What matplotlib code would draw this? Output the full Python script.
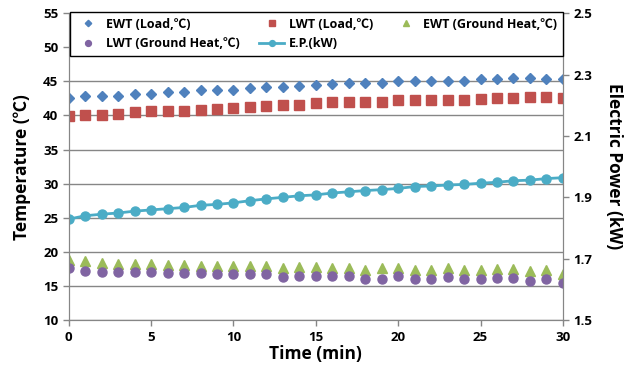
"""Entering/leaving water temperatures and electric power over time."""
import matplotlib
matplotlib.use("Agg")
import matplotlib.pyplot as plt

plt.rcParams["font.family"] = ["Open Sans", "Noto Sans CJK KR", "DejaVu Sans"]

minutes = list(range(31))

ewt_load = [42.6, 42.8, 42.9, 42.9, 43.2, 43.2, 43.5, 43.5, 43.7, 43.7,
            43.8, 44.0, 44.1, 44.1, 44.3, 44.4, 44.6, 44.7, 44.7, 44.8,
            45.0, 45.0, 45.1, 45.1, 45.1, 45.3, 45.3, 45.5, 45.5, 45.4, 45.3]
lwt_load = [39.9, 40.0, 40.1, 40.2, 40.5, 40.6, 40.7, 40.7, 40.8, 41.0,
            41.1, 41.3, 41.4, 41.5, 41.6, 41.8, 41.9, 42.0, 42.0, 42.0,
            42.2, 42.2, 42.2, 42.3, 42.3, 42.4, 42.5, 42.6, 42.7, 42.7, 42.5]
ewt_ground = [18.8, 18.6, 18.4, 18.3, 18.2, 18.2, 18.1, 18.1, 18.0, 18.0,
              18.0, 17.9, 17.9, 17.7, 17.8, 17.8, 17.7, 17.7, 17.4, 17.6,
              17.7, 17.4, 17.3, 17.6, 17.4, 17.4, 17.5, 17.5, 17.2, 17.3, 16.8]
lwt_ground = [17.6, 17.2, 17.1, 17.1, 17.0, 17.0, 16.9, 16.9, 16.9, 16.8,
              16.8, 16.8, 16.7, 16.3, 16.5, 16.5, 16.4, 16.4, 16.1, 16.1,
              16.4, 16.1, 16.0, 16.3, 16.1, 16.1, 16.2, 16.2, 15.8, 16.0, 15.5]
power_kw = [1.829, 1.840, 1.845, 1.849, 1.855, 1.859, 1.863, 1.867, 1.874, 1.877,
            1.882, 1.889, 1.895, 1.900, 1.905, 1.908, 1.914, 1.918, 1.922, 1.925,
            1.929, 1.935, 1.937, 1.940, 1.942, 1.946, 1.949, 1.954, 1.956, 1.961, 1.964]

fig = plt.figure(figsize=(6.31, 3.74), dpi=100)
ax = fig.add_axes([0.109, 0.144, 0.783, 0.821])
ax2 = ax.twinx()

# temperature series (left axis)
h_ewt_l, = ax.plot(minutes, ewt_load, ls="none", marker="D", ms=5,
                   color="#4F81BD", label="EWT (Load,℃)")
h_lwt_l, = ax.plot(minutes, lwt_load, ls="none", marker="s", ms=6.5,
                   color="#C0504D", label="LWT (Load,℃)")
h_ewt_g, = ax.plot(minutes, ewt_ground, ls="none", marker="^", ms=6.5,
                   color="#9BBB59", label="EWT (Ground Heat,℃)")
h_lwt_g, = ax.plot(minutes, lwt_ground, ls="none", marker="o", ms=6.5,
                   color="#8064A2", label="LWT (Ground Heat,℃)")

# electric power (right axis)
h_ep, = ax2.plot(minutes, power_kw, color="#4BACC6", lw=2, marker="o", ms=6.5,
                 label="E.P.(kW)")

ax.set_xlim(0, 30)
ax.set_ylim(10, 55)
ax.set_xticks(range(0, 31, 5))
ax.set_yticks(range(10, 56, 5))
ax2.set_ylim(1.5, 2.5)
ax2.set_yticks([1.5, 1.7, 1.9, 2.1, 2.3, 2.5])
ax2.set_yticklabels(["1.5", "1.7", "1.9", "2.1", "2.3", "2.5"])

ax.grid(axis="y", color="#868686", lw=1)
ax.set_axisbelow(True)
for a in (ax, ax2):
    a.spines["top"].set_visible(False)
    for s in a.spines.values():
        s.set_color("#868686")
    a.tick_params(colors="#868686", labelcolor="black", length=4, width=1,
                  labelsize=9.5)
    for lab in a.get_xticklabels() + a.get_yticklabels():
        lab.set_fontweight("bold")

ax.set_xlabel("Time (min)", fontsize=12.5, fontweight="bold", labelpad=1)
ax.set_ylabel("Temperature (℃)", fontsize=12.5, fontweight="bold", labelpad=9)
ax2.set_ylabel("Electric Power (kW)", fontsize=12.5, fontweight="bold",
               rotation=270, labelpad=22)

# legend filled row by row: matplotlib fills by column, so reorder
handles = [h_ewt_l, h_lwt_g, h_lwt_l, h_ep, h_ewt_g]
leg = ax2.legend(handles=handles, labels=[h.get_label() for h in handles],
                 ncol=3, loc="upper left", mode="expand",
                 bbox_to_anchor=(0.003, 1.003, 0.997, 0.0),
                 fancybox=False, framealpha=1, edgecolor="black",
                 prop={"weight": "bold", "size": 9}, markerscale=0.65,
                 handlelength=2.0, borderpad=0.45, labelspacing=0.5,
                 handletextpad=0.4, borderaxespad=0)
leg.get_frame().set_linewidth(1)

fig.savefig("out.png", dpi=100)
